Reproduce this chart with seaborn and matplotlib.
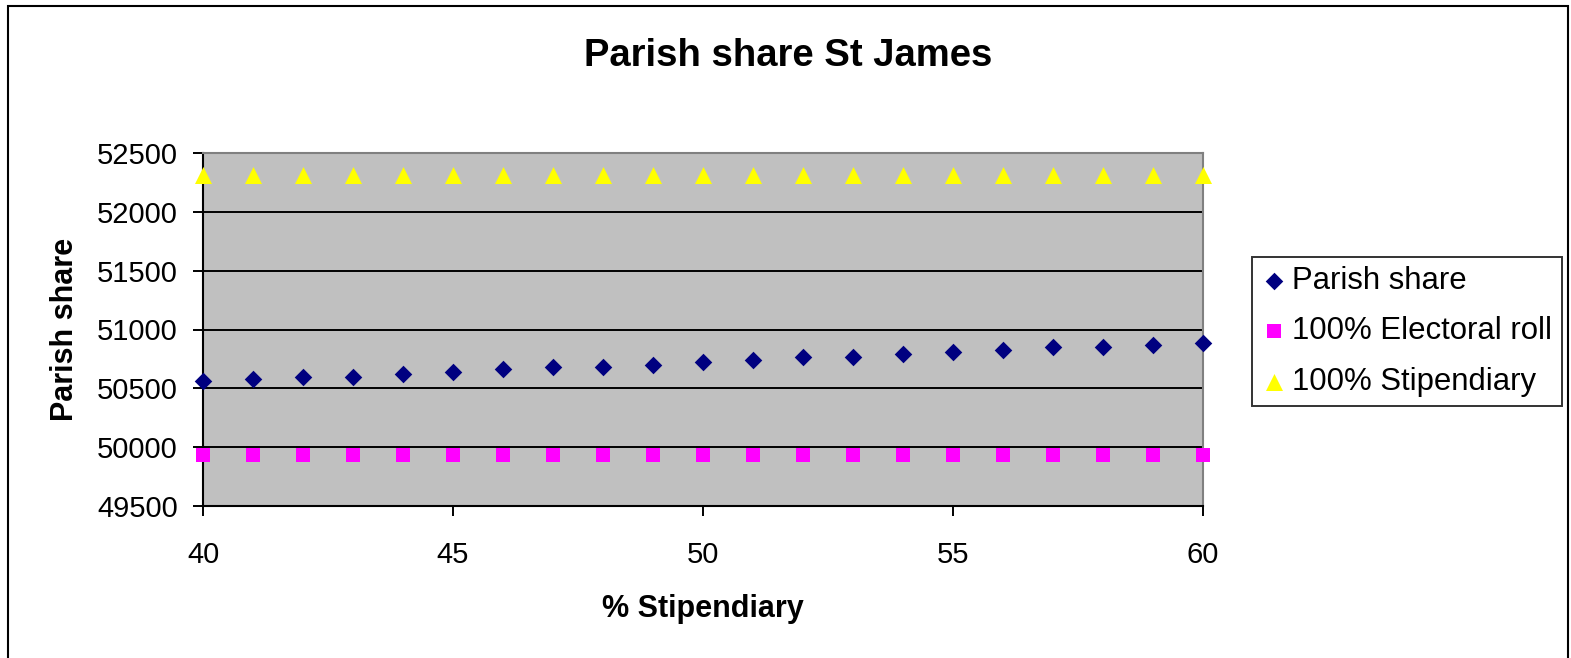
import matplotlib
matplotlib.use("Agg")
import matplotlib.pyplot as plt
from matplotlib.patches import Rectangle
import seaborn as sns
import pandas as pd

# ---- data ----
pct_stipendiary = [40, 41, 42, 43, 44, 45, 46, 47, 48, 49, 50,
                   51, 52, 53, 54, 55, 56, 57, 58, 59, 60]
parish_share = [50562, 50580, 50600, 50600, 50622, 50642, 50663, 50682, 50682, 50702, 50722,
                50745, 50765, 50765, 50788, 50805, 50825, 50848, 50848, 50868, 50888]
electoral_roll = [49930] * 21
stipendiary = [52312] * 21
series_names = ["Parish share", "100% Electoral roll", "100% Stipendiary"]
x_ticks = [40, 45, 50, 55, 60]
y_ticks = [49500, 50000, 50500, 51000, 51500, 52000, 52500]

sns.set_style("white")
plt.rcParams["font.family"] = ["Liberation Sans", "DejaVu Sans"]
plt.rcParams["text.color"] = "black"
plt.rcParams["axes.labelcolor"] = "black"
plt.rcParams["xtick.color"] = "black"
plt.rcParams["ytick.color"] = "black"

W, H = 1571, 658
fig = plt.figure(figsize=(W / 100, H / 100), dpi=100)
ax = fig.add_axes([203 / W, 1 - 506 / H, 1000 / W, 353 / H])
ax.set_facecolor("#C0C0C0")

df = pd.DataFrame({"x": pct_stipendiary, "ps": parish_share,
                   "er": electoral_roll, "st": stipendiary})

common = dict(linewidth=0, clip_on=False, zorder=5, ax=ax)
sns.scatterplot(data=df, x="x", y="ps", marker="D", s=80, color="#000080",
                label=series_names[0], **common)
sns.scatterplot(data=df, x="x", y="er", marker="s", s=95, color="#FF00FF",
                label=series_names[1], **common)
sns.scatterplot(data=df, x="x", y="st", marker="^", s=150, color="#FFFF00",
                label=series_names[2], **common)

ax.set_xlim(40, 60)
ax.set_ylim(49500, 52500)
ax.set_xticks(x_ticks)
ax.set_yticks(y_ticks)
ax.yaxis.grid(True, color="black", linewidth=1.4)
ax.xaxis.grid(False)
ax.set_axisbelow(True)

for side in ["left", "bottom"]:
    ax.spines[side].set_color("black")
    ax.spines[side].set_linewidth(1.5)
    ax.spines[side].set_zorder(4)
for side in ["top", "right"]:
    ax.spines[side].set_color("#808080")
    ax.spines[side].set_linewidth(1.5)
    ax.spines[side].set_zorder(4)

ax.tick_params(axis="y", direction="out", length=7, width=1.4, color="black",
               labelcolor="black", labelsize=21, pad=11, left=True)
ax.tick_params(axis="x", direction="out", length=7, width=1.4, color="black",
               labelcolor="black", labelsize=21, pad=18, bottom=True)

ax.set_xlabel("% Stipendiary", fontsize=22, fontweight="bold", color="black")
ax.xaxis.set_label_coords(0.5, (506 - 617) / 353)
ax.xaxis.label.set_va("baseline")
ax.set_ylabel("Parish share", fontsize=22, fontweight="bold", color="black")
ax.yaxis.set_label_coords((65 - 203) / 1000, 0.5)
ax.yaxis.label.set_va("center")

fig.text(788 / W, 1 - 65.7 / H, "Parish share St James", fontsize=27.5,
         fontweight="bold", ha="center", va="baseline", color="black")

leg = ax.legend(loc="upper left", bbox_to_anchor=(1252 / W, 1 - 256.5 / H),
                bbox_transform=fig.transFigure, fontsize=22.4, frameon=True,
                fancybox=False, shadow=False, borderpad=0.3, labelspacing=0.66,
                handlelength=0.8, handletextpad=0.2, borderaxespad=0)
leg.get_frame().set_edgecolor("black")
leg.get_frame().set_linewidth(1.4)
leg.get_frame().set_facecolor("white")
for t in leg.get_texts():
    t.set_color("black")

fig.add_artist(Rectangle((7.5 / W, -0.05), (1568 - 7.5) / W, 1.05 - 5.5 / H,
                         transform=fig.transFigure, fill=False, edgecolor="black",
                         linewidth=1.5, clip_on=False))

fig.savefig("out.png", dpi=100)
